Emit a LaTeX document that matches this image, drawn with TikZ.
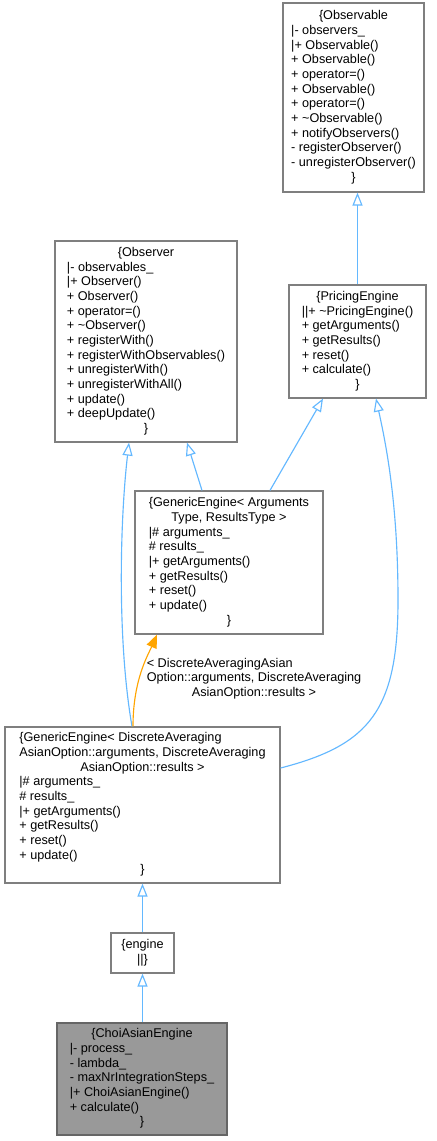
\documentclass[tikz,border=0pt]{standalone}
\usepackage{fontspec}
\setmainfont{Liberation Sans}
\usetikzlibrary{arrows.meta}
\definecolor{edgeblue}{HTML}{63B8FF}
\definecolor{edgeorange}{HTML}{FFA500}
\definecolor{boxgray}{HTML}{7F7F7F}
\definecolor{mainfill}{HTML}{999999}
\definecolor{mainborder}{HTML}{666666}
\newcommand\ctrline[1]{\multicolumn{1}{@{}c@{}}{#1}}
\newcommand\umlfont{\fontsize{9.5}{11}\selectfont}
\begin{document}
\begin{tikzpicture}[x=0.75pt,y=-0.75pt,
  umlbox/.style 2 args={draw=boxgray, line width=0.9pt, fill=white, inner sep=0pt,
    font=\umlfont, minimum width=#1*0.75pt, minimum height=#2*0.75pt},
  mainbox/.style 2 args={umlbox={#1}{#2}, draw=mainborder, fill=mainfill},
  inherit/.style={draw=edgeblue, line width=0.85pt, -{Triangle[open, length=9.75pt, width=7.5pt]}},
  template/.style={draw=edgeorange, line width=0.85pt, -{Triangle[length=10pt, width=8pt]}},
  edgelabel/.style={font=\umlfont, inner sep=0pt}]
\fill[white] (0,0) rectangle (436,1141);
\useasboundingbox (0,0) rectangle (436,1141);

\node[umlbox={141}{189}] (obs) at (353.5,97.5) {\begin{tabular}{@{}l@{}}
\ctrline{\{Observable}\\
|- observers\_\\
|+ Observable()\\
+ Observable()\\
+ operator=()\\
+ Observable()\\
+ operator=()\\
+ \textasciitilde Observable()\\
+ notifyObservers()\\
- registerObserver()\\
- unregisterObserver()\\
\ctrline{\}}
\end{tabular}};

\node[umlbox={182}{201}] (observer) at (146,341.5) {\begin{tabular}{@{}l@{}}
\ctrline{\{Observer}\\
|- observables\_\\
|+ Observer()\\
+ Observer()\\
+ operator=()\\
+ \textasciitilde Observer()\\
+ registerWith()\\
+ registerWithObservables()\\
+ unregisterWith()\\
+ unregisterWithAll()\\
+ update()\\
+ deepUpdate()\\
\ctrline{\}}
\end{tabular}};

\node[umlbox={137}{113}] (pe) at (357.5,341.5) {\begin{tabular}{@{}l@{}}
\ctrline{\{PricingEngine}\\
||+ \textasciitilde PricingEngine()\\
+ getArguments()\\
+ getResults()\\
+ reset()\\
+ calculate()\\
\ctrline{\}}
\end{tabular}};

\node[umlbox={188}{143}] (ge1) at (229,562.5) {\begin{tabular}{@{}l@{}}
\{GenericEngine< Arguments\\
\ctrline{Type, ResultsType >}\\
|\# arguments\_\\
\# results\_\\
|+ getArguments()\\
+ getResults()\\
+ reset()\\
+ update()\\
\ctrline{\}}
\end{tabular}};

\node[umlbox={275}{156}] (ge2) at (142.5,805) {\begin{tabular}{@{}l@{}}
\{GenericEngine< DiscreteAveraging\\
AsianOption::arguments, DiscreteAveraging\\
\ctrline{AsianOption::results >}\\
|\# arguments\_\\
\# results\_\\
|+ getArguments()\\
+ getResults()\\
+ reset()\\
+ update()\\
\ctrline{\}}
\end{tabular}};

\node[umlbox={63}{40}] (eng) at (142.5,953) {\begin{tabular}{@{}c@{}}
\{engine\\
||\}
\end{tabular}};

\node[mainbox={170}{112}] (choi) at (142,1079) {\begin{tabular}{@{}l@{}}
\ctrline{\{ChoiAsianEngine}\\
|- process\_\\
- lambda\_\\
- maxNrIntegrationSteps\_\\
|+ ChoiAsianEngine()\\
+ calculate()\\
\ctrline{\}}
\end{tabular}};

\node[edgelabel] (tlabel) at (254,679) {\begin{tabular}{@{}l@{}}
< DiscreteAveragingAsian\\
Option::arguments, DiscreteAveraging\\
\ctrline{AsianOption::results >}
\end{tabular}};

% edges
\draw[inherit] (pe.north) -- (pe.north |- obs.south);
\draw[inherit] ([shift={(-27,0)}]ge1.north) -- ([shift={(41,0)}]observer.south);
\draw[inherit] ([shift={(41,0)}]ge1.north) -- ([shift={(-34.5,0)}]pe.south);
\draw[inherit] ([shift={(-10.5,0)}]ge2.north) .. controls (117,640) and (120,520) .. ([shift={(-17,0)}]observer.south);
\draw[template] ([shift={(-9.5,0)}]ge2.north) .. controls (133,680) and (148,655) .. ([shift={(-72,0)}]ge1.south);
\draw[inherit] ([shift={(0,-37)}]ge2.east) .. controls (370,745) and (398,710) .. (398,600)
  .. controls (398,500) and (385,440) .. ([shift={(18.5,0)}]pe.south);
\draw[inherit] (eng.north) -- (eng.north |- ge2.south);
\draw[inherit] ([shift={(0.5,0)}]choi.north) -- ([shift={(0.5,0)}]choi.north |- eng.south);
\end{tikzpicture}
\end{document}
